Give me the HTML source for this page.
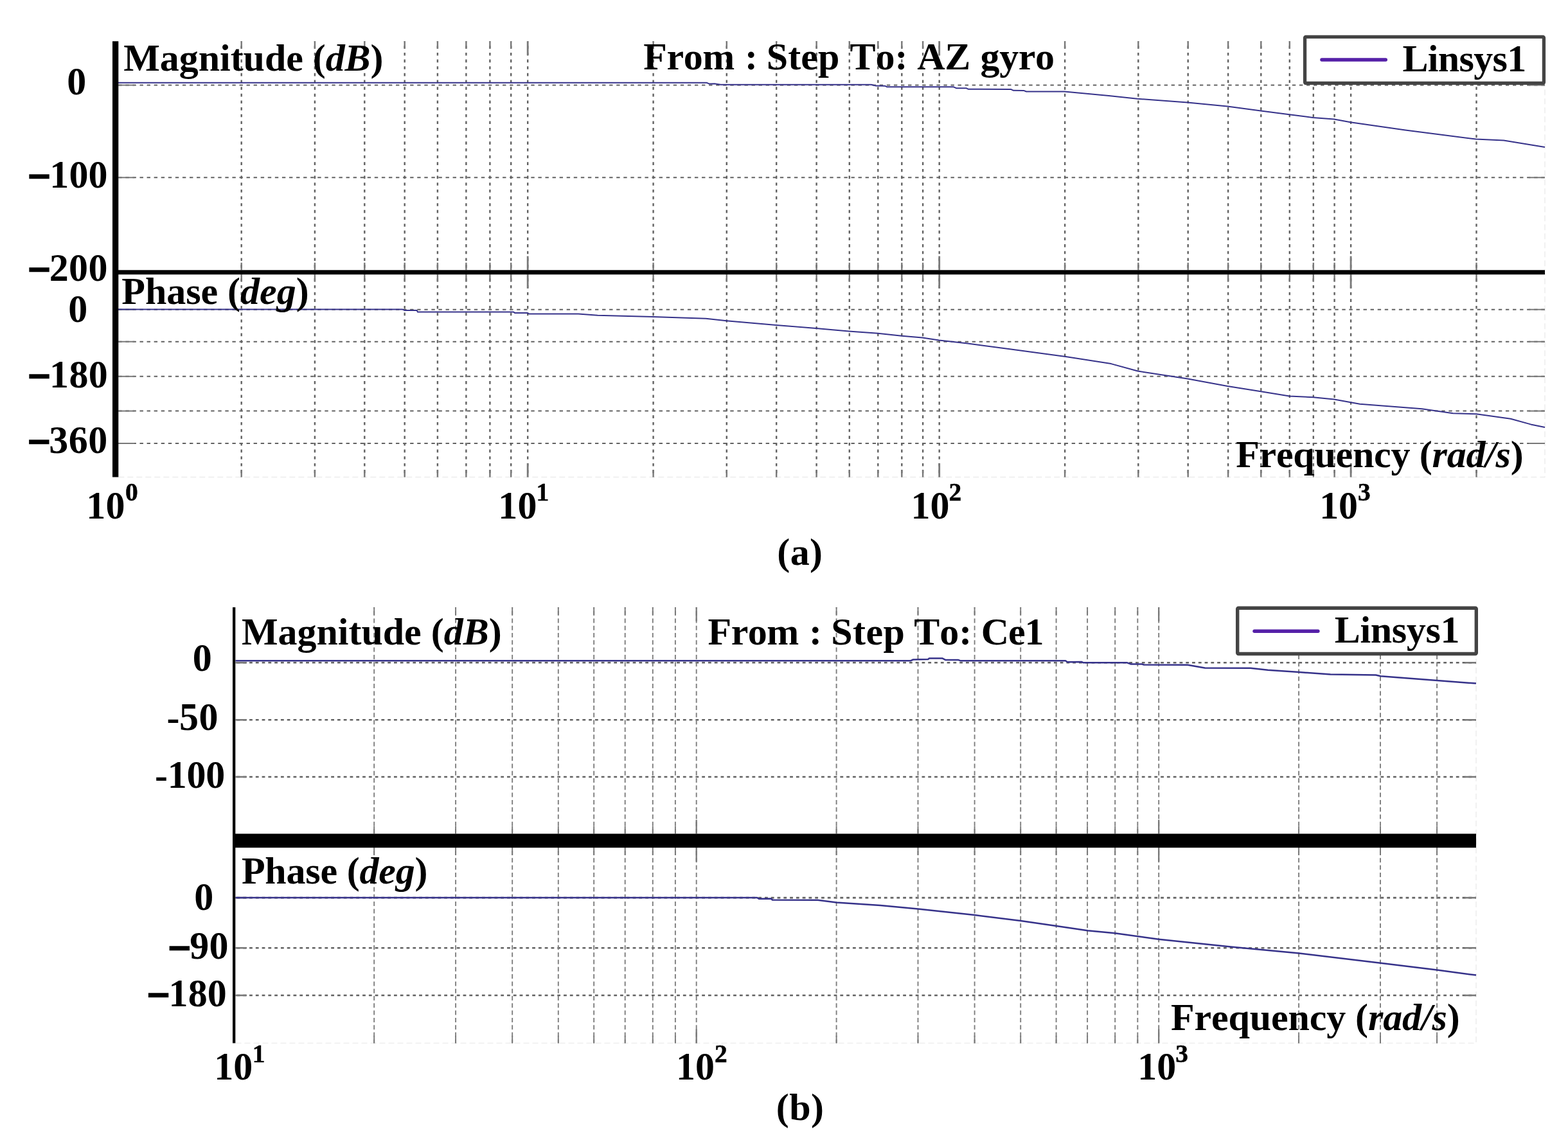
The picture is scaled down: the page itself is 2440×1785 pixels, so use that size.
<!DOCTYPE html>
<html lang="en"><head><meta charset="utf-8"><title>Bode plots</title>
<style>html,body{margin:0;padding:0;background:#fff}body{width:2440px;height:1785px;overflow:hidden}svg{display:block}text{font-family:'Liberation Serif',serif;font-weight:bold;fill:#000;font-kerning:none}.i{font-style:italic}.g,.v,.g2,.v2{stroke:#626262;fill:none}.g{stroke-dasharray:5.4 5.67}.v{stroke-dasharray:4.6 6.05;stroke-dashoffset:-7.05}.g2{stroke-dasharray:4.8 4.98;stroke-dashoffset:-2}.v2{stroke:#7e7e7e;stroke-dasharray:7 4.3;stroke-dashoffset:-6}.t{stroke:#787878;fill:none}.f{stroke:#ececec;stroke-width:1.4;stroke-dasharray:9 5;fill:none}.m{stroke:#000;stroke-width:2.6px}.h{stroke:none}.s{stroke:#000;stroke-width:.5px}.c{stroke:#36328a;fill:none;stroke-linejoin:round}</style></head><body>
<svg width="2440" height="1785" viewBox="0 0 2440 1785" role="img" aria-label="Bode plots (a) From Step To AZ gyro and (b) From Step To Ce1">
<rect width="2440" height="1785" fill="#fff"/>
<g id="plot-a">
<path d="M184.3 742.5H2404V64.2" class="f"/>
<line x1="184.3" y1="132.5" x2="2404" y2="132.5" class="g" stroke-width="2.0"/>
<line x1="184.3" y1="132.5" x2="209.3" y2="132.5" class="t" stroke-width="2.0"/>
<line x1="2379" y1="132.5" x2="2404" y2="132.5" class="t" stroke-width="2.0"/>
<line x1="184.3" y1="276.3" x2="2404" y2="276.3" class="g" stroke-width="2.0"/>
<line x1="184.3" y1="276.3" x2="209.3" y2="276.3" class="t" stroke-width="2.0"/>
<line x1="2379" y1="276.3" x2="2404" y2="276.3" class="t" stroke-width="2.0"/>
<line x1="184.3" y1="481.7" x2="2404" y2="481.7" class="g" stroke-width="2.0"/>
<line x1="184.3" y1="481.7" x2="209.3" y2="481.7" class="t" stroke-width="2.0"/>
<line x1="2379" y1="481.7" x2="2404" y2="481.7" class="t" stroke-width="2.0"/>
<line x1="184.3" y1="531.7" x2="2404" y2="531.7" class="g" stroke-width="2.0"/>
<line x1="184.3" y1="531.7" x2="209.3" y2="531.7" class="t" stroke-width="2.0"/>
<line x1="2379" y1="531.7" x2="2404" y2="531.7" class="t" stroke-width="2.0"/>
<line x1="184.3" y1="585.8" x2="2404" y2="585.8" class="g" stroke-width="2.0"/>
<line x1="184.3" y1="585.8" x2="209.3" y2="585.8" class="t" stroke-width="2.0"/>
<line x1="2379" y1="585.8" x2="2404" y2="585.8" class="t" stroke-width="2.0"/>
<line x1="184.3" y1="639.6" x2="2404" y2="639.6" class="g" stroke-width="2.0"/>
<line x1="184.3" y1="639.6" x2="209.3" y2="639.6" class="t" stroke-width="2.0"/>
<line x1="2379" y1="639.6" x2="2404" y2="639.6" class="t" stroke-width="2.0"/>
<line x1="184.3" y1="690" x2="2404" y2="690" class="g" stroke-width="2.0"/>
<line x1="184.3" y1="690" x2="209.3" y2="690" class="t" stroke-width="2.0"/>
<line x1="2379" y1="690" x2="2404" y2="690" class="t" stroke-width="2.0"/>
<line x1="375.7" y1="64.2" x2="375.7" y2="742.5" class="v" stroke-width="2.4"/>
<line x1="489.9" y1="64.2" x2="489.9" y2="742.5" class="v" stroke-width="2.4"/>
<line x1="567.3" y1="64.2" x2="567.3" y2="742.5" class="v" stroke-width="2.4"/>
<line x1="629.7" y1="64.2" x2="629.7" y2="742.5" class="v" stroke-width="2.4"/>
<line x1="680.9" y1="64.2" x2="680.9" y2="742.5" class="v" stroke-width="2.4"/>
<line x1="725.4" y1="64.2" x2="725.4" y2="742.5" class="v" stroke-width="2.4"/>
<line x1="762.4" y1="64.2" x2="762.4" y2="742.5" class="v" stroke-width="2.4"/>
<line x1="795.2" y1="64.2" x2="795.2" y2="742.5" class="v" stroke-width="2.4"/>
<line x1="1016.6" y1="64.2" x2="1016.6" y2="742.5" class="v" stroke-width="2.4"/>
<line x1="1130.8" y1="64.2" x2="1130.8" y2="742.5" class="v" stroke-width="2.4"/>
<line x1="1208.2" y1="64.2" x2="1208.2" y2="742.5" class="v" stroke-width="2.4"/>
<line x1="1270.6" y1="64.2" x2="1270.6" y2="742.5" class="v" stroke-width="2.4"/>
<line x1="1321.8" y1="64.2" x2="1321.8" y2="742.5" class="v" stroke-width="2.4"/>
<line x1="1366.3" y1="64.2" x2="1366.3" y2="742.5" class="v" stroke-width="2.4"/>
<line x1="1403.3" y1="64.2" x2="1403.3" y2="742.5" class="v" stroke-width="2.4"/>
<line x1="1436.1" y1="64.2" x2="1436.1" y2="742.5" class="v" stroke-width="2.4"/>
<line x1="1657.1" y1="64.2" x2="1657.1" y2="742.5" class="v" stroke-width="2.4"/>
<line x1="1771.3" y1="64.2" x2="1771.3" y2="742.5" class="v" stroke-width="2.4"/>
<line x1="1848.7" y1="64.2" x2="1848.7" y2="742.5" class="v" stroke-width="2.4"/>
<line x1="1911.1" y1="64.2" x2="1911.1" y2="742.5" class="v" stroke-width="2.4"/>
<line x1="1962.3" y1="64.2" x2="1962.3" y2="742.5" class="v" stroke-width="2.4"/>
<line x1="2006.8" y1="64.2" x2="2006.8" y2="742.5" class="v" stroke-width="2.4"/>
<line x1="2043.8" y1="64.2" x2="2043.8" y2="742.5" class="v" stroke-width="2.4"/>
<line x1="2076.6" y1="64.2" x2="2076.6" y2="742.5" class="v" stroke-width="2.4"/>
<line x1="2297.5" y1="64.2" x2="2297.5" y2="742.5" class="v" stroke-width="2.4"/>
<line x1="821.2" y1="64.2" x2="821.2" y2="742.5" class="v" stroke-width="2.4"/>
<line x1="1461.7" y1="64.2" x2="1461.7" y2="742.5" class="v" stroke-width="2.4"/>
<line x1="2102.1" y1="64.2" x2="2102.1" y2="742.5" class="v" stroke-width="2.4"/>
<line x1="375.7" y1="64.2" x2="375.7" y2="75.7" class="t" stroke-width="2.4"/>
<line x1="375.7" y1="408.8" x2="375.7" y2="420.3" class="t" stroke-width="2.4"/>
<line x1="375.7" y1="427.2" x2="375.7" y2="438.7" class="t" stroke-width="2.4"/>
<line x1="375.7" y1="731" x2="375.7" y2="742.5" class="t" stroke-width="2.4"/>
<line x1="489.9" y1="64.2" x2="489.9" y2="75.7" class="t" stroke-width="2.4"/>
<line x1="489.9" y1="408.8" x2="489.9" y2="420.3" class="t" stroke-width="2.4"/>
<line x1="489.9" y1="427.2" x2="489.9" y2="438.7" class="t" stroke-width="2.4"/>
<line x1="489.9" y1="731" x2="489.9" y2="742.5" class="t" stroke-width="2.4"/>
<line x1="567.3" y1="64.2" x2="567.3" y2="75.7" class="t" stroke-width="2.4"/>
<line x1="567.3" y1="408.8" x2="567.3" y2="420.3" class="t" stroke-width="2.4"/>
<line x1="567.3" y1="427.2" x2="567.3" y2="438.7" class="t" stroke-width="2.4"/>
<line x1="567.3" y1="731" x2="567.3" y2="742.5" class="t" stroke-width="2.4"/>
<line x1="629.7" y1="64.2" x2="629.7" y2="75.7" class="t" stroke-width="2.4"/>
<line x1="629.7" y1="408.8" x2="629.7" y2="420.3" class="t" stroke-width="2.4"/>
<line x1="629.7" y1="427.2" x2="629.7" y2="438.7" class="t" stroke-width="2.4"/>
<line x1="629.7" y1="731" x2="629.7" y2="742.5" class="t" stroke-width="2.4"/>
<line x1="680.9" y1="64.2" x2="680.9" y2="75.7" class="t" stroke-width="2.4"/>
<line x1="680.9" y1="408.8" x2="680.9" y2="420.3" class="t" stroke-width="2.4"/>
<line x1="680.9" y1="427.2" x2="680.9" y2="438.7" class="t" stroke-width="2.4"/>
<line x1="680.9" y1="731" x2="680.9" y2="742.5" class="t" stroke-width="2.4"/>
<line x1="725.4" y1="64.2" x2="725.4" y2="75.7" class="t" stroke-width="2.4"/>
<line x1="725.4" y1="408.8" x2="725.4" y2="420.3" class="t" stroke-width="2.4"/>
<line x1="725.4" y1="427.2" x2="725.4" y2="438.7" class="t" stroke-width="2.4"/>
<line x1="725.4" y1="731" x2="725.4" y2="742.5" class="t" stroke-width="2.4"/>
<line x1="762.4" y1="64.2" x2="762.4" y2="75.7" class="t" stroke-width="2.4"/>
<line x1="762.4" y1="408.8" x2="762.4" y2="420.3" class="t" stroke-width="2.4"/>
<line x1="762.4" y1="427.2" x2="762.4" y2="438.7" class="t" stroke-width="2.4"/>
<line x1="762.4" y1="731" x2="762.4" y2="742.5" class="t" stroke-width="2.4"/>
<line x1="795.2" y1="64.2" x2="795.2" y2="75.7" class="t" stroke-width="2.4"/>
<line x1="795.2" y1="408.8" x2="795.2" y2="420.3" class="t" stroke-width="2.4"/>
<line x1="795.2" y1="427.2" x2="795.2" y2="438.7" class="t" stroke-width="2.4"/>
<line x1="795.2" y1="731" x2="795.2" y2="742.5" class="t" stroke-width="2.4"/>
<line x1="1016.6" y1="64.2" x2="1016.6" y2="75.7" class="t" stroke-width="2.4"/>
<line x1="1016.6" y1="408.8" x2="1016.6" y2="420.3" class="t" stroke-width="2.4"/>
<line x1="1016.6" y1="427.2" x2="1016.6" y2="438.7" class="t" stroke-width="2.4"/>
<line x1="1016.6" y1="731" x2="1016.6" y2="742.5" class="t" stroke-width="2.4"/>
<line x1="1130.8" y1="64.2" x2="1130.8" y2="75.7" class="t" stroke-width="2.4"/>
<line x1="1130.8" y1="408.8" x2="1130.8" y2="420.3" class="t" stroke-width="2.4"/>
<line x1="1130.8" y1="427.2" x2="1130.8" y2="438.7" class="t" stroke-width="2.4"/>
<line x1="1130.8" y1="731" x2="1130.8" y2="742.5" class="t" stroke-width="2.4"/>
<line x1="1208.2" y1="64.2" x2="1208.2" y2="75.7" class="t" stroke-width="2.4"/>
<line x1="1208.2" y1="408.8" x2="1208.2" y2="420.3" class="t" stroke-width="2.4"/>
<line x1="1208.2" y1="427.2" x2="1208.2" y2="438.7" class="t" stroke-width="2.4"/>
<line x1="1208.2" y1="731" x2="1208.2" y2="742.5" class="t" stroke-width="2.4"/>
<line x1="1270.6" y1="64.2" x2="1270.6" y2="75.7" class="t" stroke-width="2.4"/>
<line x1="1270.6" y1="408.8" x2="1270.6" y2="420.3" class="t" stroke-width="2.4"/>
<line x1="1270.6" y1="427.2" x2="1270.6" y2="438.7" class="t" stroke-width="2.4"/>
<line x1="1270.6" y1="731" x2="1270.6" y2="742.5" class="t" stroke-width="2.4"/>
<line x1="1321.8" y1="64.2" x2="1321.8" y2="75.7" class="t" stroke-width="2.4"/>
<line x1="1321.8" y1="408.8" x2="1321.8" y2="420.3" class="t" stroke-width="2.4"/>
<line x1="1321.8" y1="427.2" x2="1321.8" y2="438.7" class="t" stroke-width="2.4"/>
<line x1="1321.8" y1="731" x2="1321.8" y2="742.5" class="t" stroke-width="2.4"/>
<line x1="1366.3" y1="64.2" x2="1366.3" y2="75.7" class="t" stroke-width="2.4"/>
<line x1="1366.3" y1="408.8" x2="1366.3" y2="420.3" class="t" stroke-width="2.4"/>
<line x1="1366.3" y1="427.2" x2="1366.3" y2="438.7" class="t" stroke-width="2.4"/>
<line x1="1366.3" y1="731" x2="1366.3" y2="742.5" class="t" stroke-width="2.4"/>
<line x1="1403.3" y1="64.2" x2="1403.3" y2="75.7" class="t" stroke-width="2.4"/>
<line x1="1403.3" y1="408.8" x2="1403.3" y2="420.3" class="t" stroke-width="2.4"/>
<line x1="1403.3" y1="427.2" x2="1403.3" y2="438.7" class="t" stroke-width="2.4"/>
<line x1="1403.3" y1="731" x2="1403.3" y2="742.5" class="t" stroke-width="2.4"/>
<line x1="1436.1" y1="64.2" x2="1436.1" y2="75.7" class="t" stroke-width="2.4"/>
<line x1="1436.1" y1="408.8" x2="1436.1" y2="420.3" class="t" stroke-width="2.4"/>
<line x1="1436.1" y1="427.2" x2="1436.1" y2="438.7" class="t" stroke-width="2.4"/>
<line x1="1436.1" y1="731" x2="1436.1" y2="742.5" class="t" stroke-width="2.4"/>
<line x1="1657.1" y1="64.2" x2="1657.1" y2="75.7" class="t" stroke-width="2.4"/>
<line x1="1657.1" y1="408.8" x2="1657.1" y2="420.3" class="t" stroke-width="2.4"/>
<line x1="1657.1" y1="427.2" x2="1657.1" y2="438.7" class="t" stroke-width="2.4"/>
<line x1="1657.1" y1="731" x2="1657.1" y2="742.5" class="t" stroke-width="2.4"/>
<line x1="1771.3" y1="64.2" x2="1771.3" y2="75.7" class="t" stroke-width="2.4"/>
<line x1="1771.3" y1="408.8" x2="1771.3" y2="420.3" class="t" stroke-width="2.4"/>
<line x1="1771.3" y1="427.2" x2="1771.3" y2="438.7" class="t" stroke-width="2.4"/>
<line x1="1771.3" y1="731" x2="1771.3" y2="742.5" class="t" stroke-width="2.4"/>
<line x1="1848.7" y1="64.2" x2="1848.7" y2="75.7" class="t" stroke-width="2.4"/>
<line x1="1848.7" y1="408.8" x2="1848.7" y2="420.3" class="t" stroke-width="2.4"/>
<line x1="1848.7" y1="427.2" x2="1848.7" y2="438.7" class="t" stroke-width="2.4"/>
<line x1="1848.7" y1="731" x2="1848.7" y2="742.5" class="t" stroke-width="2.4"/>
<line x1="1911.1" y1="64.2" x2="1911.1" y2="75.7" class="t" stroke-width="2.4"/>
<line x1="1911.1" y1="408.8" x2="1911.1" y2="420.3" class="t" stroke-width="2.4"/>
<line x1="1911.1" y1="427.2" x2="1911.1" y2="438.7" class="t" stroke-width="2.4"/>
<line x1="1911.1" y1="731" x2="1911.1" y2="742.5" class="t" stroke-width="2.4"/>
<line x1="1962.3" y1="64.2" x2="1962.3" y2="75.7" class="t" stroke-width="2.4"/>
<line x1="1962.3" y1="408.8" x2="1962.3" y2="420.3" class="t" stroke-width="2.4"/>
<line x1="1962.3" y1="427.2" x2="1962.3" y2="438.7" class="t" stroke-width="2.4"/>
<line x1="1962.3" y1="731" x2="1962.3" y2="742.5" class="t" stroke-width="2.4"/>
<line x1="2006.8" y1="64.2" x2="2006.8" y2="75.7" class="t" stroke-width="2.4"/>
<line x1="2006.8" y1="408.8" x2="2006.8" y2="420.3" class="t" stroke-width="2.4"/>
<line x1="2006.8" y1="427.2" x2="2006.8" y2="438.7" class="t" stroke-width="2.4"/>
<line x1="2006.8" y1="731" x2="2006.8" y2="742.5" class="t" stroke-width="2.4"/>
<line x1="2043.8" y1="64.2" x2="2043.8" y2="75.7" class="t" stroke-width="2.4"/>
<line x1="2043.8" y1="408.8" x2="2043.8" y2="420.3" class="t" stroke-width="2.4"/>
<line x1="2043.8" y1="427.2" x2="2043.8" y2="438.7" class="t" stroke-width="2.4"/>
<line x1="2043.8" y1="731" x2="2043.8" y2="742.5" class="t" stroke-width="2.4"/>
<line x1="2076.6" y1="64.2" x2="2076.6" y2="75.7" class="t" stroke-width="2.4"/>
<line x1="2076.6" y1="408.8" x2="2076.6" y2="420.3" class="t" stroke-width="2.4"/>
<line x1="2076.6" y1="427.2" x2="2076.6" y2="438.7" class="t" stroke-width="2.4"/>
<line x1="2076.6" y1="731" x2="2076.6" y2="742.5" class="t" stroke-width="2.4"/>
<line x1="2297.5" y1="64.2" x2="2297.5" y2="75.7" class="t" stroke-width="2.4"/>
<line x1="2297.5" y1="408.8" x2="2297.5" y2="420.3" class="t" stroke-width="2.4"/>
<line x1="2297.5" y1="427.2" x2="2297.5" y2="438.7" class="t" stroke-width="2.4"/>
<line x1="2297.5" y1="731" x2="2297.5" y2="742.5" class="t" stroke-width="2.4"/>
<line x1="821.2" y1="64.2" x2="821.2" y2="85.9" class="t" stroke-width="2.8"/>
<line x1="821.2" y1="398.6" x2="821.2" y2="420.3" class="t" stroke-width="2.8"/>
<line x1="821.2" y1="427.2" x2="821.2" y2="448.9" class="t" stroke-width="2.8"/>
<line x1="821.2" y1="720.8" x2="821.2" y2="742.5" class="t" stroke-width="2.8"/>
<line x1="1461.7" y1="64.2" x2="1461.7" y2="85.9" class="t" stroke-width="2.8"/>
<line x1="1461.7" y1="398.6" x2="1461.7" y2="420.3" class="t" stroke-width="2.8"/>
<line x1="1461.7" y1="427.2" x2="1461.7" y2="448.9" class="t" stroke-width="2.8"/>
<line x1="1461.7" y1="720.8" x2="1461.7" y2="742.5" class="t" stroke-width="2.8"/>
<line x1="2102.1" y1="64.2" x2="2102.1" y2="85.9" class="t" stroke-width="2.8"/>
<line x1="2102.1" y1="398.6" x2="2102.1" y2="420.3" class="t" stroke-width="2.8"/>
<line x1="2102.1" y1="427.2" x2="2102.1" y2="448.9" class="t" stroke-width="2.8"/>
<line x1="2102.1" y1="720.8" x2="2102.1" y2="742.5" class="t" stroke-width="2.8"/>
<polyline class="c" stroke-width="2.0" points="184,128.8 1100,128.8 1104,130.6 1112,130.2 1121.5,131.8 1356,131.8 1363,133.6 1377,133.7 1380,135.2 1484,135.3 1488,137.2 1504,137.3 1507,138.8 1573,138.9 1577,140.8 1593,140.9 1597,142.5 1656.4,142.6 1725.5,149 1770,153.7 1848,159.6 1910,165.6 1962,172.5 2006.4,178.2 2042.8,183 2076,185.6 2101.6,190.2 2187,202.6 2296.5,216.5 2340,218.4 2404,228.9"/>
<polyline class="c" stroke-width="2.0" points="184,481.6 626.5,481.6 630,483 648.7,483 650,485.6 799.2,485.6 801,486.9 820.5,486.9 823,488.4 900,488.4 930,490.8 1016,493.1 1098.6,495.8 1130.6,499.2 1208,505.9 1270.2,511 1320.7,515.4 1366.2,518.7 1403.2,522.8 1435.2,525.4 1461.4,529.5 1505.9,534.5 1573.2,543.6 1660,555.3 1729,566.1 1770.5,577.5 1848.3,589.6 1910.4,601 1962.2,609.3 2006.5,616.6 2043.4,618.3 2076.2,621.4 2116,628.7 2212.7,636.3 2261,643.2 2297.3,644.2 2350.8,651.8 2382,660.4 2404,664.9"/>
<rect x="180" y="420.3" width="2224" height="6.9" fill="#000"/>
<rect x="175" y="64.2" width="9.3" height="678.3" fill="#000"/>
<rect x="2030.55" y="57.45" width="371.9" height="72" rx="1.5" fill="#fff" stroke="#444" stroke-width="5.3"/>
<line x1="2056.95" y1="93.1" x2="2156.25" y2="93.1" stroke="#5520a8" stroke-width="5.5" stroke-linecap="round"/>
</g>
<g id="plot-b">
<path d="M366.5 1623.4H2297V945.1" class="f"/>
<line x1="366.5" y1="1031.3" x2="2297" y2="1031.3" class="g2" stroke-width="2.6"/>
<line x1="366.5" y1="1031.3" x2="384" y2="1031.3" class="t" stroke-width="2.6"/>
<line x1="2279.5" y1="1031.3" x2="2297" y2="1031.3" class="t" stroke-width="2.6"/>
<line x1="366.5" y1="1120.3" x2="2297" y2="1120.3" class="g2" stroke-width="2.6"/>
<line x1="366.5" y1="1120.3" x2="384" y2="1120.3" class="t" stroke-width="2.6"/>
<line x1="2279.5" y1="1120.3" x2="2297" y2="1120.3" class="t" stroke-width="2.6"/>
<line x1="366.5" y1="1209" x2="2297" y2="1209" class="g2" stroke-width="2.6"/>
<line x1="366.5" y1="1209" x2="384" y2="1209" class="t" stroke-width="2.6"/>
<line x1="2279.5" y1="1209" x2="2297" y2="1209" class="t" stroke-width="2.6"/>
<line x1="366.5" y1="1397.1" x2="2297" y2="1397.1" class="g2" stroke-width="2.6"/>
<line x1="366.5" y1="1397.1" x2="384" y2="1397.1" class="t" stroke-width="2.6"/>
<line x1="2279.5" y1="1397.1" x2="2297" y2="1397.1" class="t" stroke-width="2.6"/>
<line x1="366.5" y1="1475.2" x2="2297" y2="1475.2" class="g2" stroke-width="2.6"/>
<line x1="366.5" y1="1475.2" x2="384" y2="1475.2" class="t" stroke-width="2.6"/>
<line x1="2279.5" y1="1475.2" x2="2297" y2="1475.2" class="t" stroke-width="2.6"/>
<line x1="366.5" y1="1549" x2="2297" y2="1549" class="g2" stroke-width="2.6"/>
<line x1="366.5" y1="1549" x2="384" y2="1549" class="t" stroke-width="2.6"/>
<line x1="2279.5" y1="1549" x2="2297" y2="1549" class="t" stroke-width="2.6"/>
<line x1="582.2" y1="945.1" x2="582.2" y2="1623.4" class="v2" stroke-width="1.9"/>
<line x1="709.1" y1="945.1" x2="709.1" y2="1623.4" class="v2" stroke-width="1.9"/>
<line x1="797.2" y1="945.1" x2="797.2" y2="1623.4" class="v2" stroke-width="1.9"/>
<line x1="868.8" y1="945.1" x2="868.8" y2="1623.4" class="v2" stroke-width="1.9"/>
<line x1="924.2" y1="945.1" x2="924.2" y2="1623.4" class="v2" stroke-width="1.9"/>
<line x1="972.7" y1="945.1" x2="972.7" y2="1623.4" class="v2" stroke-width="1.9"/>
<line x1="1015.8" y1="945.1" x2="1015.8" y2="1623.4" class="v2" stroke-width="1.9"/>
<line x1="1050.9" y1="945.1" x2="1050.9" y2="1623.4" class="v2" stroke-width="1.9"/>
<line x1="1301.6" y1="945.1" x2="1301.6" y2="1623.4" class="v2" stroke-width="1.9"/>
<line x1="1428.5" y1="945.1" x2="1428.5" y2="1623.4" class="v2" stroke-width="1.9"/>
<line x1="1516.6" y1="945.1" x2="1516.6" y2="1623.4" class="v2" stroke-width="1.9"/>
<line x1="1588.2" y1="945.1" x2="1588.2" y2="1623.4" class="v2" stroke-width="1.9"/>
<line x1="1643.6" y1="945.1" x2="1643.6" y2="1623.4" class="v2" stroke-width="1.9"/>
<line x1="1692.1" y1="945.1" x2="1692.1" y2="1623.4" class="v2" stroke-width="1.9"/>
<line x1="1735.2" y1="945.1" x2="1735.2" y2="1623.4" class="v2" stroke-width="1.9"/>
<line x1="1770.3" y1="945.1" x2="1770.3" y2="1623.4" class="v2" stroke-width="1.9"/>
<line x1="2021.1" y1="945.1" x2="2021.1" y2="1623.4" class="v2" stroke-width="1.9"/>
<line x1="2148" y1="945.1" x2="2148" y2="1623.4" class="v2" stroke-width="1.9"/>
<line x1="2236.1" y1="945.1" x2="2236.1" y2="1623.4" class="v2" stroke-width="1.9"/>
<line x1="1083.7" y1="945.1" x2="1083.7" y2="1623.4" class="v2" stroke-width="1.9"/>
<line x1="1803.2" y1="945.1" x2="1803.2" y2="1623.4" class="v2" stroke-width="1.9"/>
<line x1="582.2" y1="945.1" x2="582.2" y2="956.6" class="t" stroke-width="1.9"/>
<line x1="582.2" y1="1286" x2="582.2" y2="1297.5" class="t" stroke-width="1.9"/>
<line x1="582.2" y1="1319.2" x2="582.2" y2="1330.7" class="t" stroke-width="1.9"/>
<line x1="582.2" y1="1611.9" x2="582.2" y2="1623.4" class="t" stroke-width="1.9"/>
<line x1="709.1" y1="945.1" x2="709.1" y2="956.6" class="t" stroke-width="1.9"/>
<line x1="709.1" y1="1286" x2="709.1" y2="1297.5" class="t" stroke-width="1.9"/>
<line x1="709.1" y1="1319.2" x2="709.1" y2="1330.7" class="t" stroke-width="1.9"/>
<line x1="709.1" y1="1611.9" x2="709.1" y2="1623.4" class="t" stroke-width="1.9"/>
<line x1="797.2" y1="945.1" x2="797.2" y2="956.6" class="t" stroke-width="1.9"/>
<line x1="797.2" y1="1286" x2="797.2" y2="1297.5" class="t" stroke-width="1.9"/>
<line x1="797.2" y1="1319.2" x2="797.2" y2="1330.7" class="t" stroke-width="1.9"/>
<line x1="797.2" y1="1611.9" x2="797.2" y2="1623.4" class="t" stroke-width="1.9"/>
<line x1="868.8" y1="945.1" x2="868.8" y2="956.6" class="t" stroke-width="1.9"/>
<line x1="868.8" y1="1286" x2="868.8" y2="1297.5" class="t" stroke-width="1.9"/>
<line x1="868.8" y1="1319.2" x2="868.8" y2="1330.7" class="t" stroke-width="1.9"/>
<line x1="868.8" y1="1611.9" x2="868.8" y2="1623.4" class="t" stroke-width="1.9"/>
<line x1="924.2" y1="945.1" x2="924.2" y2="956.6" class="t" stroke-width="1.9"/>
<line x1="924.2" y1="1286" x2="924.2" y2="1297.5" class="t" stroke-width="1.9"/>
<line x1="924.2" y1="1319.2" x2="924.2" y2="1330.7" class="t" stroke-width="1.9"/>
<line x1="924.2" y1="1611.9" x2="924.2" y2="1623.4" class="t" stroke-width="1.9"/>
<line x1="972.7" y1="945.1" x2="972.7" y2="956.6" class="t" stroke-width="1.9"/>
<line x1="972.7" y1="1286" x2="972.7" y2="1297.5" class="t" stroke-width="1.9"/>
<line x1="972.7" y1="1319.2" x2="972.7" y2="1330.7" class="t" stroke-width="1.9"/>
<line x1="972.7" y1="1611.9" x2="972.7" y2="1623.4" class="t" stroke-width="1.9"/>
<line x1="1015.8" y1="945.1" x2="1015.8" y2="956.6" class="t" stroke-width="1.9"/>
<line x1="1015.8" y1="1286" x2="1015.8" y2="1297.5" class="t" stroke-width="1.9"/>
<line x1="1015.8" y1="1319.2" x2="1015.8" y2="1330.7" class="t" stroke-width="1.9"/>
<line x1="1015.8" y1="1611.9" x2="1015.8" y2="1623.4" class="t" stroke-width="1.9"/>
<line x1="1050.9" y1="945.1" x2="1050.9" y2="956.6" class="t" stroke-width="1.9"/>
<line x1="1050.9" y1="1286" x2="1050.9" y2="1297.5" class="t" stroke-width="1.9"/>
<line x1="1050.9" y1="1319.2" x2="1050.9" y2="1330.7" class="t" stroke-width="1.9"/>
<line x1="1050.9" y1="1611.9" x2="1050.9" y2="1623.4" class="t" stroke-width="1.9"/>
<line x1="1301.6" y1="945.1" x2="1301.6" y2="956.6" class="t" stroke-width="1.9"/>
<line x1="1301.6" y1="1286" x2="1301.6" y2="1297.5" class="t" stroke-width="1.9"/>
<line x1="1301.6" y1="1319.2" x2="1301.6" y2="1330.7" class="t" stroke-width="1.9"/>
<line x1="1301.6" y1="1611.9" x2="1301.6" y2="1623.4" class="t" stroke-width="1.9"/>
<line x1="1428.5" y1="945.1" x2="1428.5" y2="956.6" class="t" stroke-width="1.9"/>
<line x1="1428.5" y1="1286" x2="1428.5" y2="1297.5" class="t" stroke-width="1.9"/>
<line x1="1428.5" y1="1319.2" x2="1428.5" y2="1330.7" class="t" stroke-width="1.9"/>
<line x1="1428.5" y1="1611.9" x2="1428.5" y2="1623.4" class="t" stroke-width="1.9"/>
<line x1="1516.6" y1="945.1" x2="1516.6" y2="956.6" class="t" stroke-width="1.9"/>
<line x1="1516.6" y1="1286" x2="1516.6" y2="1297.5" class="t" stroke-width="1.9"/>
<line x1="1516.6" y1="1319.2" x2="1516.6" y2="1330.7" class="t" stroke-width="1.9"/>
<line x1="1516.6" y1="1611.9" x2="1516.6" y2="1623.4" class="t" stroke-width="1.9"/>
<line x1="1588.2" y1="945.1" x2="1588.2" y2="956.6" class="t" stroke-width="1.9"/>
<line x1="1588.2" y1="1286" x2="1588.2" y2="1297.5" class="t" stroke-width="1.9"/>
<line x1="1588.2" y1="1319.2" x2="1588.2" y2="1330.7" class="t" stroke-width="1.9"/>
<line x1="1588.2" y1="1611.9" x2="1588.2" y2="1623.4" class="t" stroke-width="1.9"/>
<line x1="1643.6" y1="945.1" x2="1643.6" y2="956.6" class="t" stroke-width="1.9"/>
<line x1="1643.6" y1="1286" x2="1643.6" y2="1297.5" class="t" stroke-width="1.9"/>
<line x1="1643.6" y1="1319.2" x2="1643.6" y2="1330.7" class="t" stroke-width="1.9"/>
<line x1="1643.6" y1="1611.9" x2="1643.6" y2="1623.4" class="t" stroke-width="1.9"/>
<line x1="1692.1" y1="945.1" x2="1692.1" y2="956.6" class="t" stroke-width="1.9"/>
<line x1="1692.1" y1="1286" x2="1692.1" y2="1297.5" class="t" stroke-width="1.9"/>
<line x1="1692.1" y1="1319.2" x2="1692.1" y2="1330.7" class="t" stroke-width="1.9"/>
<line x1="1692.1" y1="1611.9" x2="1692.1" y2="1623.4" class="t" stroke-width="1.9"/>
<line x1="1735.2" y1="945.1" x2="1735.2" y2="956.6" class="t" stroke-width="1.9"/>
<line x1="1735.2" y1="1286" x2="1735.2" y2="1297.5" class="t" stroke-width="1.9"/>
<line x1="1735.2" y1="1319.2" x2="1735.2" y2="1330.7" class="t" stroke-width="1.9"/>
<line x1="1735.2" y1="1611.9" x2="1735.2" y2="1623.4" class="t" stroke-width="1.9"/>
<line x1="1770.3" y1="945.1" x2="1770.3" y2="956.6" class="t" stroke-width="1.9"/>
<line x1="1770.3" y1="1286" x2="1770.3" y2="1297.5" class="t" stroke-width="1.9"/>
<line x1="1770.3" y1="1319.2" x2="1770.3" y2="1330.7" class="t" stroke-width="1.9"/>
<line x1="1770.3" y1="1611.9" x2="1770.3" y2="1623.4" class="t" stroke-width="1.9"/>
<line x1="2021.1" y1="945.1" x2="2021.1" y2="956.6" class="t" stroke-width="1.9"/>
<line x1="2021.1" y1="1286" x2="2021.1" y2="1297.5" class="t" stroke-width="1.9"/>
<line x1="2021.1" y1="1319.2" x2="2021.1" y2="1330.7" class="t" stroke-width="1.9"/>
<line x1="2021.1" y1="1611.9" x2="2021.1" y2="1623.4" class="t" stroke-width="1.9"/>
<line x1="2148" y1="945.1" x2="2148" y2="956.6" class="t" stroke-width="1.9"/>
<line x1="2148" y1="1286" x2="2148" y2="1297.5" class="t" stroke-width="1.9"/>
<line x1="2148" y1="1319.2" x2="2148" y2="1330.7" class="t" stroke-width="1.9"/>
<line x1="2148" y1="1611.9" x2="2148" y2="1623.4" class="t" stroke-width="1.9"/>
<line x1="2236.1" y1="945.1" x2="2236.1" y2="956.6" class="t" stroke-width="1.9"/>
<line x1="2236.1" y1="1286" x2="2236.1" y2="1297.5" class="t" stroke-width="1.9"/>
<line x1="2236.1" y1="1319.2" x2="2236.1" y2="1330.7" class="t" stroke-width="1.9"/>
<line x1="2236.1" y1="1611.9" x2="2236.1" y2="1623.4" class="t" stroke-width="1.9"/>
<line x1="1083.7" y1="945.1" x2="1083.7" y2="966.8" class="t" stroke-width="2.3"/>
<line x1="1083.7" y1="1275.8" x2="1083.7" y2="1297.5" class="t" stroke-width="2.3"/>
<line x1="1083.7" y1="1319.2" x2="1083.7" y2="1340.9" class="t" stroke-width="2.3"/>
<line x1="1083.7" y1="1601.7" x2="1083.7" y2="1623.4" class="t" stroke-width="2.3"/>
<line x1="1803.2" y1="945.1" x2="1803.2" y2="966.8" class="t" stroke-width="2.3"/>
<line x1="1803.2" y1="1275.8" x2="1803.2" y2="1297.5" class="t" stroke-width="2.3"/>
<line x1="1803.2" y1="1319.2" x2="1803.2" y2="1340.9" class="t" stroke-width="2.3"/>
<line x1="1803.2" y1="1601.7" x2="1803.2" y2="1623.4" class="t" stroke-width="2.3"/>
<polyline class="c" stroke-width="2.5" points="366.5,1028.2 1417.4,1028.2 1421,1026.5 1444.3,1026 1446,1024.4 1466.2,1024.4 1471,1026.9 1491,1026.9 1494.8,1028.3 1658,1028.3 1661,1030.3 1683,1030 1686,1031.3 1754,1031.3 1760,1033.5 1777,1033.5 1780,1034.5 1848,1034.8 1875,1039.4 1946,1039.8 1973,1042.8 2021.6,1046.1 2070.4,1049.5 2141,1050.5 2148.5,1052.2 2236.4,1058.9 2297,1063.6"/>
<polyline class="c" stroke-width="2.5" points="366.5,1397.1 1178.4,1397.1 1181,1398.8 1200,1398.5 1202,1400.5 1272.6,1400.8 1301.9,1404.5 1370,1408.9 1428.5,1414.6 1516.7,1424.1 1588.4,1433.1 1643.6,1440.9 1692.7,1448.3 1734.9,1452.3 1803.2,1461.8 1915.6,1473.5 2021.6,1483.6 2148.5,1498.8 2236.4,1509.6 2297,1517.6"/>
<rect x="362" y="1297.5" width="1935" height="21.7" fill="#000"/>
<rect x="362" y="945.1" width="4.3" height="678.3" fill="#000"/>
<rect x="1925.7" y="946.2" width="371.6" height="71.3" rx="1.5" fill="#fff" stroke="#444" stroke-width="5.4"/>
<line x1="1952.05" y1="982.2" x2="2050.85" y2="982.2" stroke="#5520a8" stroke-width="5.5" stroke-linecap="round"/>
</g>
<g id="labels">
<text id="a_mag"><tspan x="192.3" y="109.6" font-size="60" letter-spacing="-0.06">Magnitude (<tspan class="i">dB</tspan>)</tspan></text>
<text id="a_title"><tspan x="1001.2" y="107.9" font-size="60" letter-spacing="-0.38">From </tspan><tspan x="1158.9" y="107.9" font-size="60">: </tspan><tspan x="1192.85" y="107.9" font-size="60" letter-spacing="0.02">Step </tspan><tspan x="1322.4" y="107.9" font-size="60">To: </tspan><tspan x="1427.28" y="107.9" font-size="60" letter-spacing="-0.4">AZ </tspan><tspan x="1525.6" y="107.9" font-size="60" letter-spacing="-0.38">gyro</tspan></text>
<text id="a_leg"><tspan x="2182.4" y="111.3" font-size="60" letter-spacing="-0.64">Linsys1</tspan></text>
<text id="a_ph"><tspan x="189.3" y="472.6" font-size="60" letter-spacing="-0.03">Phase (<tspan class="i">deg</tspan>)</tspan></text>
<text id="a_fr"><tspan x="1923.2" y="727.1" font-size="60" letter-spacing="-0.26">Frequency (<tspan class="i">rad/s</tspan>)</tspan></text>
<text id="a_y0" transform="translate(0 146.6) scale(1 1.035)"><tspan x="104.15" y="0" font-size="60">0</tspan></text>
<text id="a_y1" transform="translate(0 291.7) scale(1 1.035)"><tspan x="43.52" y="4.23" font-size="62" class="m">−</tspan><tspan x="77.35" y="0" font-size="60" letter-spacing="0.1">100</tspan></text>
<text id="a_y2" transform="translate(0 436.6) scale(1 1.035)"><tspan x="43.52" y="4.23" font-size="62" class="m">−</tspan><tspan x="76.67" y="0" font-size="60" letter-spacing="0.4">200</tspan></text>
<text id="a_y3" transform="translate(0 500.9) scale(1 1.035)"><tspan x="106.35" y="0" font-size="60">0</tspan></text>
<text id="a_y4" transform="translate(0 603.1) scale(1 1.035)"><tspan x="43.48" y="4.23" font-size="62" class="m">−</tspan><tspan x="77.05" y="0" font-size="60" letter-spacing="0.4">180</tspan></text>
<text id="a_y5" transform="translate(0 704.8) scale(1 1.035)"><tspan x="43.28" y="4.23" font-size="62" class="m">−</tspan><tspan x="76.35" y="0" font-size="60" letter-spacing="0.4">360</tspan></text>
<text id="a_x0" transform="translate(0 807) scale(1 1.035)"><tspan x="134.25" y="0" font-size="60" letter-spacing="0.2">10</tspan><tspan x="195.12" y="-27.25" font-size="39.5" class="s">0</tspan></text>
<text id="a_x1" transform="translate(0 807) scale(1 1.035)"><tspan x="775.15" y="0" font-size="60" letter-spacing="0.4">10</tspan><tspan x="834.55" y="-27.25" font-size="39.5" class="s">1</tspan></text>
<text id="a_x2" transform="translate(0 807) scale(1 1.035)"><tspan x="1417.45" y="0" font-size="60">10</tspan><tspan x="1476.62" y="-27.25" font-size="39.5" class="s">2</tspan></text>
<text id="a_x3" transform="translate(0 807) scale(1 1.035)"><tspan x="2053.35" y="0" font-size="60" letter-spacing="-0.4">10</tspan><tspan x="2112.9" y="-27.25" font-size="39.5" class="s">3</tspan></text>
<text id="a_cap"><tspan x="1209.25" y="878.6" font-size="60" letter-spacing="0.4">(a)</tspan></text>
<text id="b_mag"><tspan x="375.9" y="1002.8" font-size="60" letter-spacing="-0.02">Magnitude (<tspan class="i">dB</tspan>)</tspan></text>
<text id="b_title"><tspan x="1101.6" y="1003.2" font-size="60" letter-spacing="-0.58">From </tspan><tspan x="1258.95" y="1003.2" font-size="60">: </tspan><tspan x="1293.35" y="1003.2" font-size="60" letter-spacing="0.38">Step </tspan><tspan x="1422.2" y="1003.2" font-size="60">To: </tspan><tspan x="1526.7" y="1003.2" font-size="60" letter-spacing="-1.12">Ce1</tspan></text>
<text id="b_leg"><tspan x="2076.8" y="999.7" font-size="60" letter-spacing="-0.36">Linsys1</tspan></text>
<text id="b_ph"><tspan x="375.9" y="1375.3" font-size="60" letter-spacing="-0.19">Phase (<tspan class="i">deg</tspan>)</tspan></text>
<text id="b_fr"><tspan x="1822" y="1603.1" font-size="60" letter-spacing="-0.12">Frequency (<tspan class="i">rad/s</tspan>)</tspan></text>
<text id="b_y0" transform="translate(0 1044.3) scale(1 1.035)"><tspan x="299.7" y="0" font-size="60">0</tspan></text>
<text id="b_y1" transform="translate(0 1136.4) scale(1 1.035)"><tspan x="259.5" y="0.22" font-size="60" class="h">-</tspan><tspan x="279.08" y="0" font-size="60" letter-spacing="0.4">50</tspan></text>
<text id="b_y2" transform="translate(0 1225.6) scale(1 1.035)"><tspan x="240.9" y="1.38" font-size="60" class="h">-</tspan><tspan x="260.75" y="0" font-size="60" letter-spacing="-0.3">100</tspan></text>
<text id="b_y3" transform="translate(0 1416.4) scale(1 1.035)"><tspan x="302.35" y="0" font-size="60">0</tspan></text>
<text id="b_y4" transform="translate(0 1492.2) scale(1 1.035)"><tspan x="261.67" y="4.23" font-size="62" class="m">−</tspan><tspan x="295.25" y="0" font-size="60" letter-spacing="0.2">90</tspan></text>
<text id="b_y5" transform="translate(0 1565.7) scale(1 1.035)"><tspan x="229.08" y="4.23" font-size="62" class="m">−</tspan><tspan x="262.55" y="0" font-size="60" letter-spacing="0.15">180</tspan></text>
<text id="b_x0" transform="translate(0 1679.7) scale(1 1.035)"><tspan x="333.25" y="0" font-size="60" letter-spacing="0.1">10</tspan><tspan x="392.85" y="-25.8" font-size="39.5" class="s">1</tspan></text>
<text id="b_x1" transform="translate(0 1679.7) scale(1 1.035)"><tspan x="1052.05" y="0" font-size="60" letter-spacing="-0.1">10</tspan><tspan x="1112.03" y="-25.8" font-size="39.5" class="s">2</tspan></text>
<text id="b_x2" transform="translate(0 1679.7) scale(1 1.035)"><tspan x="1770.15" y="0" font-size="60" letter-spacing="0.2">10</tspan><tspan x="1829.35" y="-25.8" font-size="39.5" class="s">3</tspan></text>
<text id="b_cap"><tspan x="1207.85" y="1742.6" font-size="60" letter-spacing="0.4">(b)</tspan></text>
</g>
</svg></body></html>
